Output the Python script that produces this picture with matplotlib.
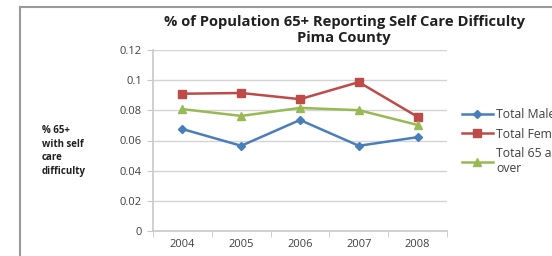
import matplotlib
matplotlib.use("Agg")
import matplotlib.pyplot as plt
from matplotlib.lines import Line2D
import numpy as np

years = ["2004", "2005", "2006", "2007", "2008"]
total_male = [0.0676, 0.0565, 0.0736, 0.0565, 0.0622]
total_female = [0.0910, 0.0915, 0.0874, 0.0987, 0.0757]
total_65_over = [0.0808, 0.0763, 0.0816, 0.0801, 0.0703]
series_labels = ["Total Male", "Total Female", "Total 65 and\nover"]
y_ticks = [0, 0.02, 0.04, 0.06, 0.08, 0.1, 0.12]
y_tick_labels = ["0", "0.02", "0.04", "0.06", "0.08", "0.1", "0.12"]

W, H = 552, 256
fig = plt.figure(figsize=(W / 100, H / 100), dpi=100)
plt.rcParams['font.family'] = ['Open Sans', 'DejaVu Sans']

# outer chart border (left and top visible)
fig.add_artist(Line2D([20 / W, 20 / W], [0, 1 - 7 / H], color='#9a9a9a', lw=1.5, transform=fig.transFigure))
fig.add_artist(Line2D([20 / W, 1], [1 - 7 / H, 1 - 7 / H], color='#9a9a9a', lw=1.5, transform=fig.transFigure))

ax = fig.add_axes([153 / W, 1 - 231 / H, (447 - 153) / W, (231 - 50) / H])
x = np.arange(len(years))

ax.plot(x, total_male, color='#4a7ebb', marker='D', markersize=4.5, lw=1.8, label=series_labels[0], zorder=3)
ax.plot(x, total_female, color='#be4b48', marker='s', markersize=6, lw=1.8, label=series_labels[1], zorder=3)
ax.plot(x, total_65_over, color='#98b954', marker='^', markersize=6, lw=1.8, label=series_labels[2], zorder=3)

ax.set_xlim(-0.5, len(years) - 0.5)
ax.set_ylim(0, 0.12)
ax.set_yticks(y_ticks)
ax.set_yticklabels(y_tick_labels)
ax.set_xticks(x)
ax.set_xticklabels(years)
ax.set_xticks(np.arange(-0.5, len(years), 1), minor=True)
ax.tick_params(axis='x', which='major', length=0, labelsize=8, colors='#404040', pad=6)
ax.tick_params(axis='x', which='minor', length=4, color='#c8c8c8', direction='out')
ax.tick_params(axis='y', length=4, color='#c8c8c8', labelsize=8, labelcolor='#404040', pad=4)
ax.grid(axis='y', color='#d4d4d4', lw=1.0)
ax.set_axisbelow(True)
for s in ['top', 'right']:
    ax.spines[s].set_visible(False)
ax.spines['left'].set_color('#c8c8c8')
ax.spines['left'].set_linewidth(1.2)
ax.spines['bottom'].set_color('#c8c8c8')
ax.spines['bottom'].set_linewidth(1.2)

fig.text(344 / W, 1 - 30 / H, "% of Population 65+ Reporting Self Care Difficulty\nPima County",
         ha='center', va='center', fontsize=10.6, fontweight='bold', color='#202020', linespacing=1.25)

fig.text(42 / W, 1 - 151 / H, "% 65+\nwith self\ncare\ndifficulty", ha='left', va='center',
         fontsize=7, fontweight='bold', color='#202020', linespacing=1.3)

leg = fig.legend(loc='upper left', bbox_to_anchor=(462 / W, 1 - 108 / H), frameon=False,
                 fontsize=8.8, handlelength=2.5, handletextpad=0.3, labelspacing=0.55,
                 labelcolor='#404040', borderaxespad=0, borderpad=0)

fig.savefig("out.png", dpi=100)
